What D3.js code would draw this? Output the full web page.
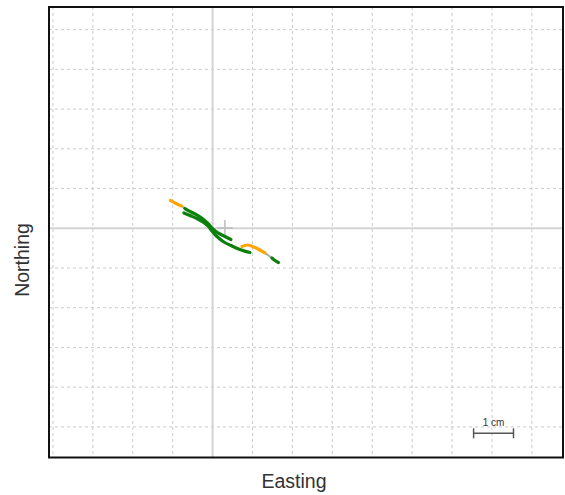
<!DOCTYPE html>
<html>
<head>
<meta charset="utf-8">
<script src="https://cdn.jsdelivr.net/npm/d3@7"></script>
<style>
  html, body { margin: 0; padding: 0; background: #fff; }
  svg { display: block; }
  text { font-family: "Liberation Sans", Arial, sans-serif; fill: #333; }
</style>
</head>
<body>
<svg id="chart" width="565" height="495"></svg>
<script>
// Horizontal deviation map, positions in cm relative to the reference point.
const xDomain = [-4.10, 8.78];   // easting, cm
const yDomain = [-5.77, 5.57];   // northing, cm
const xGridTicks = [-4, -3, -2, -1, 0, 1, 2, 3, 4, 5, 6, 7, 8];
const yGridTicks = [-5, -4, -3, -2, -1, 0, 1, 2, 3, 4, 5];

// Track segments: [easting, northing] in cm, grouped by fix state.
const floatStart = [[-1.058, 0.700], [-0.920, 0.625], [-0.782, 0.562]];
const gapStart   = [[-0.782, 0.562], [-0.694, 0.499]];
const fixedPassA = [[-0.694, 0.499], [-0.619, 0.448], [-0.419, 0.348], [-0.243, 0.234],
                    [-0.118, 0.121], [0.008, -0.018], [0.133, -0.118], [0.283, -0.194],
                    [0.459, -0.282]];
const fixedPassB = [[-0.719, 0.385], [-0.569, 0.322], [-0.393, 0.247], [-0.243, 0.159],
                    [-0.118, 0.058], [-0.018, -0.068], [0.108, -0.207], [0.283, -0.345],
                    [0.459, -0.433], [0.684, -0.534], [0.935, -0.610]];
const floatEnd   = [[0.734, -0.458], [0.885, -0.421], [1.060, -0.484], [1.185, -0.547],
                    [1.311, -0.622]];
const gapEnd     = [[1.311, -0.622], [1.486, -0.748]];
const fixedEnd   = [[1.486, -0.748], [1.561, -0.811], [1.649, -0.861]];
const meanPosition = [0.308, 0.008];
const scaleBarCm = 1;
const scaleBarLabel = "1 cm";

const svg = d3.select("#chart");
const plot = { left: 49, top: 7, right: 563, bottom: 457.5 };

const x = d3.scaleLinear().domain(xDomain).range([plot.left, plot.right]);
const y = d3.scaleLinear().domain(yDomain).range([plot.bottom, plot.top]);

svg.append("clipPath").attr("id", "plotClip")
  .append("rect")
  .attr("x", plot.left).attr("y", plot.top)
  .attr("width", plot.right - plot.left).attr("height", plot.bottom - plot.top);

const g = svg.append("g").attr("clip-path", "url(#plotClip)");

// Dashed 1 cm grid
g.append("g").selectAll("line").data(xGridTicks.filter(d => d !== 0)).join("line")
  .attr("x1", d => x(d)).attr("x2", d => x(d))
  .attr("y1", plot.top).attr("y2", plot.bottom)
  .attr("stroke", "#cbcbcb").attr("stroke-width", 1).attr("stroke-dasharray", "3,3");
g.append("g").selectAll("line").data(yGridTicks.filter(d => d !== 0)).join("line")
  .attr("y1", d => y(d)).attr("y2", d => y(d))
  .attr("x1", plot.left).attr("x2", plot.right)
  .attr("stroke", "#cbcbcb").attr("stroke-width", 1).attr("stroke-dasharray", "3,3");

// Solid axes through the reference point
g.append("line")
  .attr("x1", x(0)).attr("x2", x(0)).attr("y1", plot.top).attr("y2", plot.bottom)
  .attr("stroke", "#d4d4d4").attr("stroke-width", 2);
g.append("line")
  .attr("y1", y(0)).attr("y2", y(0)).attr("x1", plot.left).attr("x2", plot.right)
  .attr("stroke", "#d4d4d4").attr("stroke-width", 2);

// Mean position cross
const arm = 8;
const mx = x(meanPosition[0]), my = y(meanPosition[1]);
g.append("line").attr("x1", mx - arm).attr("x2", mx + arm).attr("y1", my).attr("y2", my)
  .attr("stroke", "#bdbdbd").attr("stroke-width", 1.5);
g.append("line").attr("x1", mx).attr("x2", mx).attr("y1", my - arm).attr("y2", my + arm)
  .attr("stroke", "#bdbdbd").attr("stroke-width", 1.5);

// Track
const line = d3.line().x(d => x(d[0])).y(d => y(d[1])).curve(d3.curveCatmullRom);
const segments = [
  { pts: gapStart, color: "#a8a8a8", w: 2 },
  { pts: gapEnd, color: "#a8a8a8", w: 2 },
  { pts: floatStart, color: "#ffa500", w: 3.2 },
  { pts: fixedPassA, color: "#0b800b", w: 3.2 },
  { pts: fixedPassB, color: "#0b800b", w: 3.2 },
  { pts: floatEnd, color: "#ffa500", w: 3.2 },
  { pts: fixedEnd, color: "#0b800b", w: 3.2 }
];
g.append("g").selectAll("path").data(segments).join("path")
  .attr("d", d => line(d.pts))
  .attr("fill", "none")
  .attr("stroke", d => d.color)
  .attr("stroke-width", d => d.w)
  .attr("stroke-linecap", "round")
  .attr("stroke-linejoin", "round");

// Scale bar
const sbRight = 513.5, sbY = 433.3;
const sbLen = x(scaleBarCm) - x(0);
const sb = svg.append("g").attr("stroke", "#555").attr("stroke-width", 1.5);
sb.append("line").attr("x1", sbRight - sbLen).attr("x2", sbRight).attr("y1", sbY).attr("y2", sbY);
sb.append("line").attr("x1", sbRight - sbLen).attr("x2", sbRight - sbLen).attr("y1", sbY - 5).attr("y2", sbY + 5);
sb.append("line").attr("x1", sbRight).attr("x2", sbRight).attr("y1", sbY - 5).attr("y2", sbY + 5);
svg.append("text")
  .attr("x", sbRight - sbLen / 2).attr("y", 426)
  .attr("text-anchor", "middle").attr("font-size", 10)
  .text(scaleBarLabel);

// Plot frame
svg.append("rect")
  .attr("x", plot.left).attr("y", plot.top)
  .attr("width", plot.right - plot.left).attr("height", plot.bottom - plot.top)
  .attr("fill", "none").attr("stroke", "#111").attr("stroke-width", 2);

// Axis titles
svg.append("text")
  .attr("x", 294).attr("y", 488)
  .attr("text-anchor", "middle").attr("font-size", 19.5)
  .text("Easting");
svg.append("text")
  .attr("transform", "translate(29,260) rotate(-90)")
  .attr("text-anchor", "middle").attr("font-size", 19.5)
  .text("Northing");
</script>
</body>
</html>
